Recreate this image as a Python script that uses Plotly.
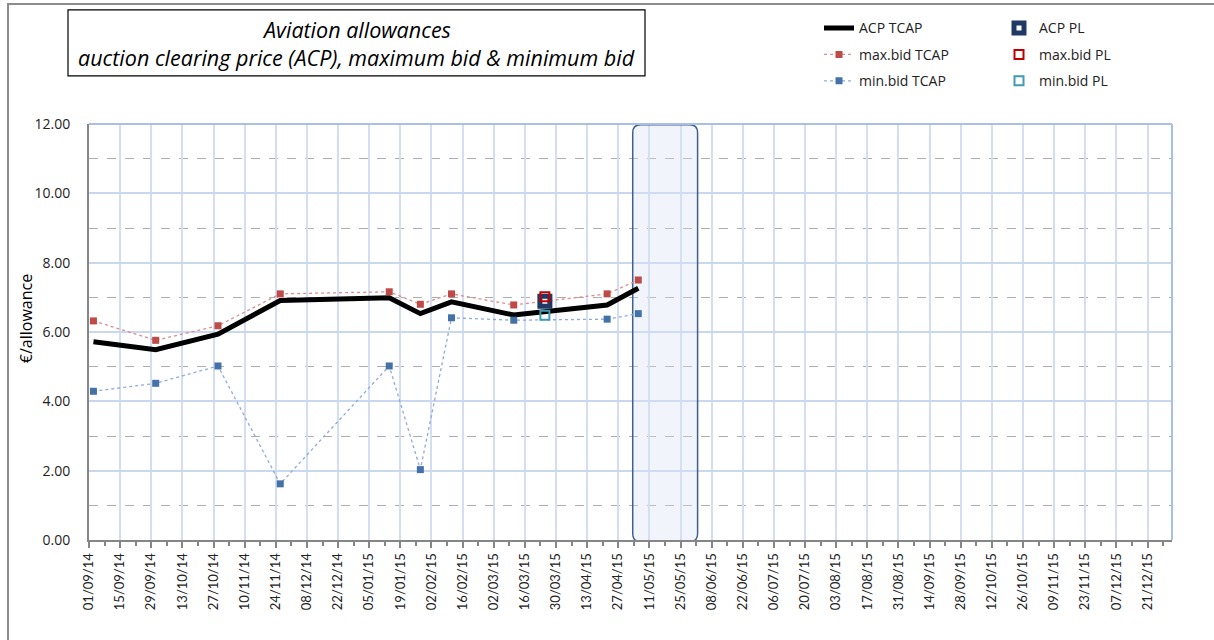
import plotly.graph_objects as go
import pandas as pd

# ---------------- data ----------------
dates_tcap = ["2014-09-03", "2014-10-01", "2014-10-29", "2014-11-26", "2015-01-14",
              "2015-01-28", "2015-02-11", "2015-03-11", "2015-04-22", "2015-05-06"]
acp_tcap = [5.72, 5.49, 5.94, 6.91, 6.99, 6.53, 6.87, 6.49, 6.78, 7.26]
max_tcap = [6.32, 5.76, 6.18, 7.10, 7.16, 6.80, 7.10, 6.78, 7.10, 7.50]
min_tcap = [4.29, 4.52, 5.02, 1.62, 5.02, 2.03, 6.41, 6.34, 6.37, 6.53]

dates_pl = ["2015-03-25"]
acp_pl = [6.89]
max_pl = [7.02]
min_pl = [6.48]

title_lines = ["Aviation allowances",
               "auction clearing price (ACP), maximum bid & minimum bid"]
y_title = "€/allowance"

# ---------------- layout helpers ----------------
W_FIG, H_FIG = 1214, 640
L, R, T, B = 89, 1172, 124, 539.6
PW, PH = R - L, B - T


def px(x):
    return (x - L) / PW


def py(y):
    return (B - y) / PH


FONT = "Lato"
FONT2 = "Open Sans"

fig = go.Figure()

fig.add_trace(go.Scatter(
    x=dates_tcap, y=acp_tcap, name="ACP TCAP", mode="lines",
    line=dict(color="black", width=5), legend="legend", legendgroup="a"))
fig.add_trace(go.Scatter(
    x=dates_tcap, y=max_tcap, name="max.bid TCAP", mode="lines+markers",
    line=dict(color="#D98E8C", width=1.3, dash="3px,3px"),
    marker=dict(symbol="square", size=7, color="#BE4B48"),
    legend="legend", legendgroup="b"))
fig.add_trace(go.Scatter(
    x=dates_tcap, y=min_tcap, name="min.bid TCAP", mode="lines+markers",
    line=dict(color="#8EAADB", width=1.3, dash="3px,3px"),
    marker=dict(symbol="square", size=7, color="#4472A8"),
    legend="legend", legendgroup="c"))
fig.add_trace(go.Scatter(
    x=dates_pl, y=acp_pl, name="ACP PL", mode="markers",
    marker=dict(symbol="square", size=10, color="white",
                line=dict(color="#1F3864", width=5)),
    legend="legend2", legendgroup="d"))
fig.add_trace(go.Scatter(
    x=dates_pl, y=max_pl, name="max.bid PL", mode="markers",
    marker=dict(symbol="square-open", size=9, color="#C00000",
                line=dict(color="#C00000", width=2)),
    legend="legend2", legendgroup="e"))
fig.add_trace(go.Scatter(
    x=dates_pl, y=min_pl, name="min.bid PL", mode="markers",
    marker=dict(symbol="square-open", size=9, color="#3E9BB0",
                line=dict(color="#3E9BB0", width=2)),
    legend="legend2", legendgroup="f"))

# rounded highlight rectangle (data coords, x in ms)
def ms(d):
    return pd.Timestamp(d).value / 1e6

x0, x1 = ms("2015-05-03 12:00"), ms("2015-06-01 16:00")
y0, y1 = -0.05, 11.98
rx = 3.6 * 86400000
ry = 0.23
path = (f"M {x0+rx},{y0} L {x1-rx},{y0} Q {x1},{y0} {x1},{y0+ry} "
        f"L {x1},{y1-ry} Q {x1},{y1} {x1-rx},{y1} "
        f"L {x0+rx},{y1} Q {x0},{y1} {x0},{y1-ry} "
        f"L {x0},{y0+ry} Q {x0},{y0} {x0+rx},{y0} Z")

shapes = [
    dict(type="path", path=path, xref="x", yref="y", layer="between",
         fillcolor="rgba(214,226,244,0.35)", line=dict(color="#3F5F8F", width=1.5)),
    # plot-area top/right border
    dict(type="line", xref="paper", yref="paper", x0=0, x1=1, y0=1, y1=1,
         line=dict(color="#A9BFE6", width=2)),
    dict(type="line", xref="paper", yref="paper", x0=1, x1=1, y0=0, y1=1,
         line=dict(color="#A9BFE6", width=2)),
    # title box
    dict(type="rect", xref="paper", yref="paper", x0=px(68), x1=px(645),
         y0=py(76), y1=py(10), line=dict(color="black", width=1.2)),
    # outer chart frame
    dict(type="rect", xref="paper", yref="paper", x0=px(8), x1=px(1260),
         y0=py(700), y1=py(4), line=dict(color="#8C8C8C", width=2)),
]

annotations = [
    dict(text=title_lines[0], xref="paper", yref="paper", x=px(356.5), y=py(30),
         showarrow=False, xanchor="center", yanchor="middle",
         font=dict(family=FONT2, size=21.5, color="black", style="italic")),
    dict(text=title_lines[1], xref="paper", yref="paper", x=px(356.5), y=py(58),
         showarrow=False, xanchor="center", yanchor="middle",
         font=dict(family=FONT2, size=21.5, color="black", style="italic")),
    dict(text=y_title, xref="paper", yref="paper", x=px(26), y=py(319),
         showarrow=False, textangle=-90, xanchor="center", yanchor="middle",
         font=dict(family=FONT2, size=16, color="black")),
]

fig.update_layout(
    width=W_FIG, height=H_FIG,
    margin=dict(l=L, r=W_FIG - R, t=T, b=H_FIG - B, autoexpand=False),
    paper_bgcolor="white", plot_bgcolor="white",
    font=dict(family=FONT, size=13, color="#222"),
    shapes=shapes, annotations=annotations,
    showlegend=True,
    legend=dict(x=px(819), y=py(12.5), xanchor="left", yanchor="top",
                bgcolor="rgba(0,0,0,0)", tracegroupgap=5.2,
                font=dict(family=FONT2, size=14, color="#222")),
    legend2=dict(x=px(999), y=py(12.5), xanchor="left", yanchor="top",
                 bgcolor="rgba(0,0,0,0)", tracegroupgap=5.2,
                 font=dict(family=FONT2, size=14, color="#222")),
)

fig.update_xaxes(
    type="date", range=["2014-09-01", "2016-01-01"],
    tick0="2014-09-01", dtick=14 * 86400000, tickformat="%d/%m/%y",
    tickangle=-90, tickfont=dict(family=FONT, size=13, color="#222"),
    showgrid=True, gridcolor="#D3DEF1", gridwidth=2,
    showline=True, linecolor="#868686", linewidth=2,
    ticks="outside", ticklen=6, tickcolor="#868686", tickwidth=1.5,
    minor=dict(dtick=7 * 86400000, tick0="2014-09-01", ticks="outside",
               ticklen=4, tickcolor="#868686", showgrid=False),
    zeroline=False,
)
fig.update_yaxes(
    range=[0, 12], dtick=2, tickformat=".2f",
    tickfont=dict(family=FONT2, size=14, color="#222"),
    showgrid=True, gridcolor="#C9D7EF", gridwidth=2,
    showline=True, linecolor="#868686", linewidth=2,
    ticks="", ticklabelstandoff=14,
    minor=dict(dtick=1, showgrid=True, gridcolor="#ADADAD", gridwidth=1,
               griddash="dash", ticks=""),
    zeroline=False,
)

fig.write_html("out.html", config={"displayModeBar": False},
               post_script="document.body.style.margin='0px';document.body.style.overflow='hidden';")
